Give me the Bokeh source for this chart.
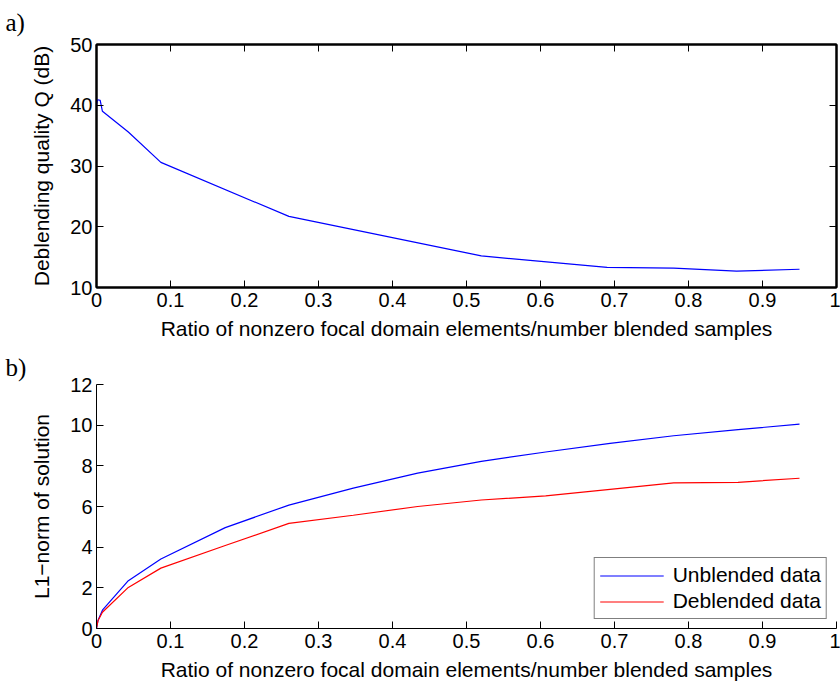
from bokeh.plotting import figure
from bokeh.layouts import column
from bokeh.models import LinearAxis, FixedTicker, Title, Range1d, CustomLabelingPolicy
from bokeh.embed import file_html
from bokeh.resources import INLINE

# ---- data: panel a) ----
ratio_a = [0.0, 0.0015, 0.005, 0.008, 0.043, 0.087, 0.26, 0.52, 0.69, 0.78, 0.865, 0.95]
quality_db = [40.2, 40.9, 40.8, 39.0, 35.6, 30.6, 21.7, 15.2, 13.3, 13.2, 12.7, 13.0]

# ---- data: panel b) ----
ratio_b = [0.0, 0.002, 0.008, 0.043, 0.087, 0.174, 0.26, 0.347, 0.434, 0.52,
           0.607, 0.694, 0.78, 0.867, 0.95]
l1_unblended = [0.0, 0.4, 0.9, 2.35, 3.42, 4.96, 6.07, 6.9, 7.64, 8.22,
                8.68, 9.1, 9.48, 9.78, 10.05]
l1_deblended = [0.0, 0.38, 0.8, 2.02, 2.97, 4.08, 5.17, 5.57, 6.0, 6.32,
                6.52, 6.84, 7.16, 7.19, 7.39]

# ---- ticks ----
x_ticks = [0, 0.1, 0.2, 0.3, 0.4, 0.5, 0.6, 0.7, 0.8, 0.9, 1]
x_tick_labels = ["0", "0.1", "0.2", "0.3", "0.4", "0.5", "0.6", "0.7", "0.8", "0.9", "1"]
ya_ticks = [10, 20, 30, 40, 50]
yb_ticks = [0, 2, 4, 6, 8, 10, 12]

x_label = "Ratio of nonzero focal domain elements/number blended samples"
ya_label = "Deblending quality Q (dB)"
yb_label = "L1\u2212norm of solution"
legend_labels = ["Unblended data", "Deblended data"]
panel_tags = ["a)", "b)"]

FONT = "Liberation Sans"
TICK_FS = "20px"
LABEL_FS = "21px"
TICK_LEN = 7


def style_axis(ax, lw, labels=True):
    ax.axis_line_color = "black"
    ax.axis_line_width = lw
    ax.major_tick_line_color = "black"
    ax.major_tick_line_width = 1
    ax.major_tick_in = TICK_LEN
    ax.major_tick_out = 0
    ax.minor_tick_line_color = None
    ax.major_label_text_font = FONT
    ax.major_label_text_color = "black"
    ax.axis_label_text_font = FONT
    ax.axis_label_text_font_style = "normal"
    ax.axis_label_text_font_size = LABEL_FS
    ax.axis_label_text_color = "black"
    if labels:
        ax.major_label_text_font_size = TICK_FS
    else:
        ax.major_label_text_font_size = "1px"
        ax.major_label_standoff = 0
        ax.major_label_policy = CustomLabelingPolicy(code="return new Set()")


def make_fig(height, ymin, ymax, yticks, ylabel, top_border, bottom_border):
    p = figure(width=840, height=height, output_backend="svg", toolbar_location=None,
               title=None,
               x_range=Range1d(0, 1), y_range=Range1d(ymin, ymax),
               min_border_left=96, min_border_right=4,
               min_border_top=top_border, min_border_bottom=bottom_border,
               background_fill_color="white", border_fill_color="white")
    p.xgrid.visible = False
    p.ygrid.visible = False
    p.xaxis.ticker = FixedTicker(ticks=x_ticks)
    p.xaxis.major_label_overrides = {t: s for t, s in zip(x_ticks, x_tick_labels)}
    p.yaxis.ticker = FixedTicker(ticks=yticks)
    p.xaxis.axis_label = x_label
    p.yaxis.axis_label = ylabel
    p.xaxis.major_label_standoff = 5
    p.xaxis.axis_label_standoff = 7
    p.yaxis.major_label_standoff = 4
    p.yaxis.axis_label_standoff = 14
    return p


def tag_title(text, standoff):
    return Title(text=text, align="left", offset=-91, standoff=standoff,
                 text_font="Liberation Serif", text_font_size="25px",
                 text_font_style="normal", text_color="black")


# ---------- panel a ----------
p1 = make_fig(347, 10, 50, ya_ticks, ya_label, 44, 60)
for ax in p1.xaxis + p1.yaxis:
    style_axis(ax, 2)
p1.outline_line_color = "black"
p1.outline_line_width = 2
top_ax = LinearAxis(ticker=FixedTicker(ticks=x_ticks))
style_axis(top_ax, 2, labels=False)
p1.add_layout(top_ax, "above")
right_ax = LinearAxis(ticker=FixedTicker(ticks=ya_ticks))
style_axis(right_ax, 2, labels=False)
p1.add_layout(right_ax, "right")
p1.line(ratio_a, quality_db, line_color="#0000ff", line_width=1.2)
p1.add_layout(tag_title(panel_tags[0], 9), "above")

# ---------- panel b ----------
p2 = make_fig(340, 0, 12, yb_ticks, yb_label, 37, 59)
for ax in p2.xaxis + p2.yaxis:
    style_axis(ax, 1)
p2.outline_line_color = None
p2.line(ratio_b, l1_unblended, line_color="#0000ff", line_width=1.2, legend_label=legend_labels[0])
p2.line(ratio_b, l1_deblended, line_color="#ff0000", line_width=1.2, legend_label=legend_labels[1])
p2.add_layout(tag_title(panel_tags[1], 7), "above")

lg = p2.legend[0]
lg.location = "bottom_right"
lg.margin = 9
lg.padding = 5
lg.spacing = 2
lg.border_line_color = "black"
lg.border_line_width = 1
lg.background_fill_color = "white"
lg.background_fill_alpha = 1
lg.label_text_font = FONT
lg.label_text_font_size = LABEL_FS
lg.label_text_color = "black"
lg.glyph_width = 64
lg.glyph_height = 23
lg.label_height = 23
lg.label_standoff = 9

layout = column(p1, p2, spacing=0)
open("out.html", "w").write(file_html(layout, INLINE))
